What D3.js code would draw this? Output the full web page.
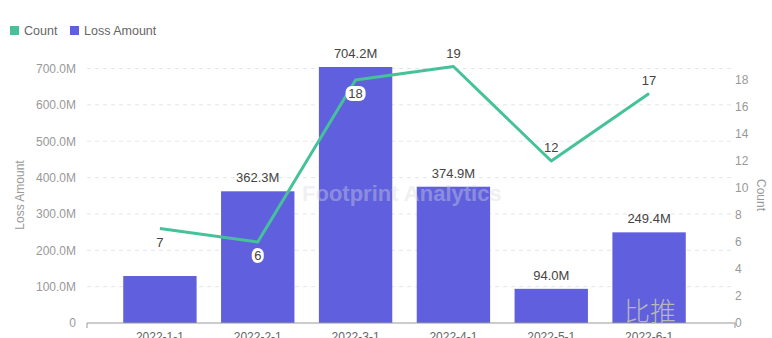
<!DOCTYPE html>
<html>
<head>
<meta charset="utf-8">
<script src="https://cdn.jsdelivr.net/npm/d3@7"></script>
<style>
html,body{margin:0;padding:0;background:#fff;}
svg{display:block;font-family:"Liberation Sans",Arial,sans-serif;}
</style>
</head>
<body>
<svg id="chart" width="772" height="338"></svg>
<script>
const categories = ["2022-1-1","2022-2-1","2022-3-1","2022-4-1","2022-5-1","2022-6-1"];
const lossAmount = [129.3e6, 362.3e6, 704.2e6, 374.9e6, 94.0e6, 249.4e6];
const lossLabels = [null, "362.3M", "704.2M", "374.9M", "94.0M", "249.4M"];
const countValues = [7, 6, 18, 19, 12, 17];
const countLabelSide = ["below","below","below","above","above","above"];
const leftTicks = [0,100e6,200e6,300e6,400e6,500e6,600e6,700e6];
const rightTicks = [0,2,4,6,8,10,12,14,16,18];

const svg = d3.select("#chart");
const barColor = "#6060de", lineColor = "#45c29a";
const y0 = 323, yTop = 67;

const x = d3.scaleBand().domain(categories).range([111, 698]).paddingInner(0.25).paddingOuter(0.125);
const yL = d3.scaleLinear().domain([0, d3.max(lossAmount)]).range([y0, yTop]);
const yR = d3.scaleLinear().domain([0, d3.max(countValues)]).range([y0, 66.5]);

// gridlines
svg.append("g").selectAll("line").data(leftTicks.slice(1)).join("line")
  .attr("x1", 87).attr("x2", 735)
  .attr("y1", d => yL(d)).attr("y2", d => yL(d))
  .attr("stroke", "#e6e6e6").attr("stroke-dasharray", "4,4");

// left axis
const gL = svg.append("g").attr("transform", "translate(84,0)")
  .call(d3.axisLeft(yL).tickValues(leftTicks).tickSize(0).tickPadding(8)
    .tickFormat(d => d === 0 ? "0" : (d/1e6).toFixed(1) + "M"));
gL.select(".domain").remove();
gL.selectAll("text").attr("fill", "#999").attr("font-size", 12).attr("font-family", "Liberation Sans, Arial, sans-serif");

// right axis
const gR = svg.append("g").attr("transform", "translate(729,0)")
  .call(d3.axisRight(yR).tickValues(rightTicks).tickSize(0).tickPadding(6));
gR.select(".domain").remove();
gR.selectAll("text").attr("fill", "#999").attr("font-size", 12).attr("font-family", "Liberation Sans, Arial, sans-serif");

// axis titles
svg.append("text").attr("transform", "translate(24,195) rotate(-90)").attr("text-anchor", "middle")
  .attr("font-size", 12).attr("fill", "#999").text("Loss Amount");
svg.append("text").attr("transform", "translate(757,195) rotate(90)").attr("text-anchor", "middle")
  .attr("font-size", 12).attr("fill", "#999").text("Count");

// bars
svg.append("g").selectAll("rect").data(lossAmount).join("rect")
  .attr("x", (d,i) => x(categories[i])).attr("width", x.bandwidth())
  .attr("y", d => yL(d)).attr("height", d => y0 - yL(d))
  .attr("fill", barColor);

// watermark (over bars, faint)
svg.append("text").attr("x", 302).attr("y", 201).attr("font-size", 22).attr("font-weight", "bold")
  .attr("fill", "rgba(215,215,222,0.4)").text("Footprint Analytics");

// bar labels
svg.append("g").selectAll("text").data(lossAmount).join("text")
  .attr("x", (d,i) => x(categories[i]) + x.bandwidth()/2)
  .attr("y", d => yL(d) - 9)
  .attr("text-anchor", "middle").attr("font-size", 13).attr("fill", "#444")
  .text((d,i) => lossLabels[i] || "");

// x axis
svg.append("path").attr("d", `M87,328V${y0}H735V328`).attr("fill", "none").attr("stroke", "#999");
svg.append("g").selectAll("text").data(categories).join("text")
  .attr("x", d => x(d) + x.bandwidth()/2).attr("y", 341)
  .attr("text-anchor", "middle").attr("font-size", 12).attr("fill", "#666").text(d => d);

// line
const cx = i => x(categories[i]) + x.bandwidth()/2;
svg.append("path").datum(countValues)
  .attr("d", d3.line().x((d,i) => cx(i)).y(d => yR(d)))
  .attr("fill", "none").attr("stroke", lineColor).attr("stroke-width", 3).attr("stroke-linejoin", "round");

// count labels
const cl = svg.append("g");
countValues.forEach((v, i) => {
  const px = cx(i), py = yR(v);
  const ly = countLabelSide[i] === "below" ? py + 18 : py - 9;
  const insideBar = ly - 6 > yL(lossAmount[i]);
  if (insideBar) {
    const w = String(v).length * 8 + 4;
    cl.append("rect").attr("x", px - w/2).attr("y", ly - 12).attr("width", w).attr("height", 15)
      .attr("rx", 6).attr("fill", "#fff");
  }
  cl.append("text").attr("x", px).attr("y", ly).attr("text-anchor", "middle")
    .attr("font-size", 13).attr("fill", "#444").text(v);
});

// legend
const legend = [["Count", lineColor, 10], ["Loss Amount", barColor, 70]];
legend.forEach(([name, color, lx]) => {
  svg.append("rect").attr("x", lx).attr("y", 26).attr("width", 9).attr("height", 9).attr("fill", color);
  svg.append("text").attr("x", lx + 14).attr("y", 35).attr("font-size", 12.5).attr("fill", "#666").text(name);
});

// watermark text
svg.append("text").attr("x", 624).attr("y", 321).attr("font-size", 26).attr("fill", "#b8b8b8")
  .attr("font-family", "Noto Sans CJK SC").attr("font-weight", 300).text("比推");
</script>
</body>
</html>
